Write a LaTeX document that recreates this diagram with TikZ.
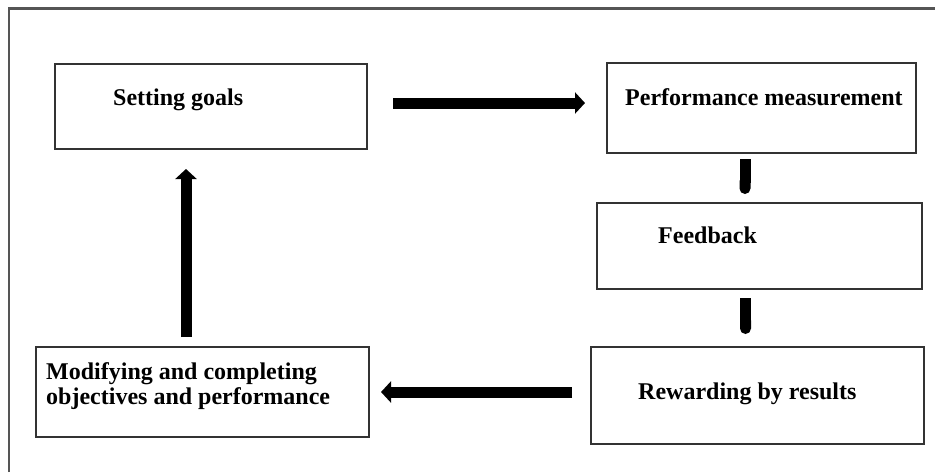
\documentclass[tikz,border=0pt]{standalone}
\usepackage{fontspec}
\setmainfont{Liberation Serif}
\usetikzlibrary{arrows.meta, positioning}
\definecolor{boxgray}{HTML}{333333}
\definecolor{framegray}{HTML}{555555}

\begin{document}
\begin{tikzpicture}[x=1pt, y=-1pt,
	stagebox/.style={draw=boxgray, line width=2pt, rectangle, inner sep=0pt},
	stagetext/.style={inner sep=0pt, font=\fontsize{24}{25}\selectfont\bfseries, align=left},
	fatarrow/.style={line width=11pt, -{Triangle[length=10pt, width=21pt]}},
	fatbar/.style={line width=11pt, -{Round Cap}}]
	\useasboundingbox (0,0) rectangle (935,472);
	% outer frame, open to the right and bottom
	\draw[framegray, line width=2.5pt] (9,472) -- (9,8.5) -- (935,8.5);
	% stages of the cycle
	\node[stagebox, minimum width=312pt, minimum height=85pt] (goals)  at (211,106.5) {};
	\node[stagebox, minimum width=309pt, minimum height=90pt] (perf)   at (761.5,108) {};
	\node[stagebox, minimum width=325pt, minimum height=86pt] (feed)   at (759.5,246) {};
	\node[stagebox, minimum width=333pt, minimum height=97pt] (reward) at (757.5,395.5) {};
	\node[stagebox, minimum width=333pt, minimum height=90pt] (modify) at (202.5,392) {};
	% texts of the stages
	\node[stagetext, anchor=base west] (goalstext)  at (113,105) {Setting goals};
	\node[stagetext, anchor=base west] (perftext)   at (625,105) {Performance measurement};
	\node[stagetext, anchor=base west] (feedtext)   at (658,243) {Feedback};
	\node[stagetext, anchor=base west] (rewardtext) at (638,399) {Rewarding by results};
	\node[stagetext, anchor=north west] (modifytext) at (46,362.5) {Modifying and completing\\objectives and performance};
	% arrows between the stages
	\draw[fatarrow, shorten <=25pt, shorten >=21pt] ([yshift=3.5pt]goals.east) -- ([yshift=3.5pt]goals.east -| perf.west);
	\draw[fatbar, shorten <=5pt, shorten >=8pt] ([xshift=-16.5pt]perf.south) -- ([xshift=-16.5pt]perf.south |- feed.north);
	\draw[fatbar, shorten <=8pt, shorten >=12pt] ([xshift=-14pt]feed.south) -- ([xshift=-14pt]feed.south |- reward.north);
	\draw[fatarrow, shorten <=18pt, shorten >=11pt] (reward.west |- modify.east) -- (modify.east);
	\draw[fatarrow, shorten <=9pt, shorten >=19pt] ([xshift=-16.5pt]modify.north) -- ([xshift=-16.5pt]modify.north |- goals.south);
\end{tikzpicture}
\end{document}
